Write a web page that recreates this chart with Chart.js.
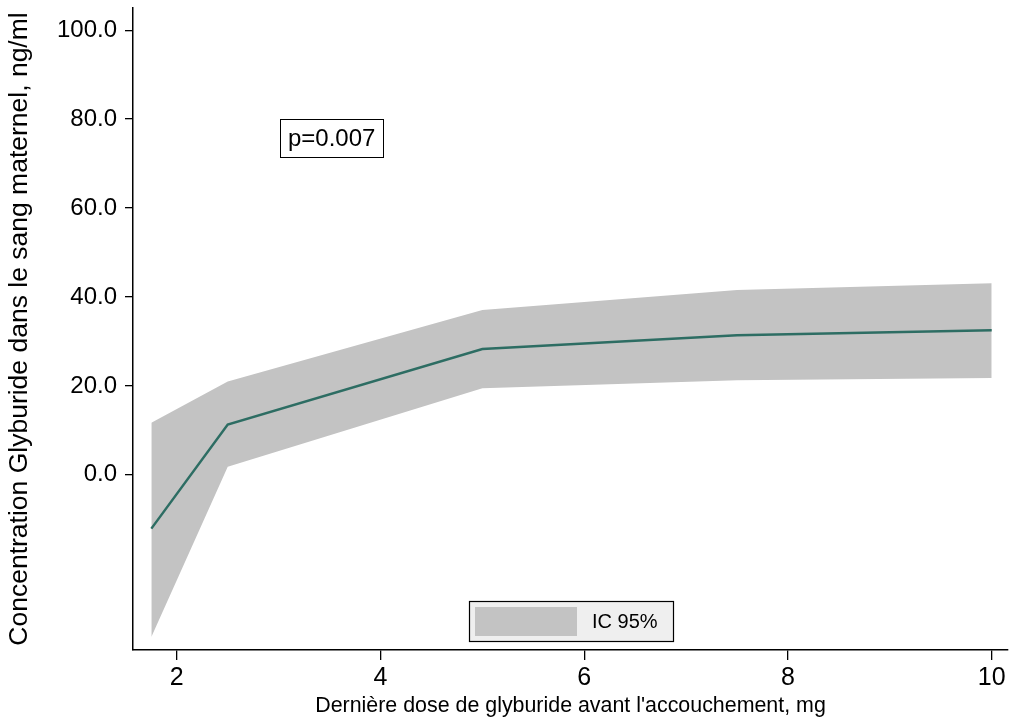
<!DOCTYPE html>
<html>
<head>
<meta charset="utf-8">
<script src="https://cdn.jsdelivr.net/npm/chart.js@4.4.1/dist/chart.umd.min.js"></script>
<style>
  html, body { margin: 0; padding: 0; background: #fff; }
  #wrap { width: 1011px; height: 719px; }
</style>
</head>
<body>
<div id="wrap"><canvas id="chart" width="1011" height="719"></canvas></div>
<script>
// ── Données ──
const doses = [1.75, 2.5, 5, 7.5, 10];
const concentration = [-12.1, 11.3, 28.3, 31.4, 32.5];
const icHaut = [11.7, 21.0, 37.1, 41.6, 43.1];
const icBas = [-36.5, 1.8, 19.5, 21.3, 21.8];

const xTicks = [2, 4, 6, 8, 10];
const yTicks = [0, 20, 40, 60, 80, 100];

const pValueText = 'p=0.007';
const pValuePos = [3.52, 75.7];
const legendLabel = 'IC 95%';

// ── Style ──
const FONT = "'Liberation Sans', Arial, Helvetica, sans-serif";
const BAND = '#c3c3c3';
const LINE = '#2d6d63';

const toXY = (xs, ys) => xs.map((x, i) => ({ x, y: ys[i] }));

// Annotation p + légende dans la zone du graphique
const overlayPlugin = {
  id: 'overlay',
  afterDraw(chart) {
    const { ctx, chartArea, scales } = chart;
    ctx.save();

    // boîte p=0.007
    ctx.font = '24px ' + FONT;
    ctx.textBaseline = 'middle';
    ctx.textAlign = 'center';
    const px = scales.x.getPixelForValue(pValuePos[0]);
    const py = scales.y.getPixelForValue(pValuePos[1]);
    const tw = ctx.measureText(pValueText).width;
    ctx.fillStyle = '#fff';
    ctx.fillRect(px - tw / 2 - 8, py - 19, tw + 16, 38);
    ctx.strokeStyle = '#000';
    ctx.lineWidth = 1;
    ctx.strokeRect(Math.round(px - tw / 2 - 8) + 0.5, Math.round(py - 19) + 0.5, Math.round(tw + 16), 38);
    ctx.fillStyle = '#000';
    ctx.fillText(pValueText, px, py + 1);

    // légende
    const cx = (chartArea.left + chartArea.right) / 2;
    const bw = 204, bh = 40;
    const bx = Math.round(cx - bw / 2), by = chartArea.bottom - 49;
    ctx.fillStyle = '#efefef';
    ctx.fillRect(bx, by, bw, bh);
    ctx.strokeStyle = '#000';
    ctx.lineWidth = 1.2;
    ctx.strokeRect(bx + 0.5, by + 0.5, bw, bh);
    ctx.fillStyle = BAND;
    ctx.fillRect(bx + 6, by + 6, 102, 29);
    ctx.fillStyle = '#000';
    ctx.font = '20px ' + FONT;
    ctx.textAlign = 'left';
    ctx.fillText(legendLabel, bx + 123, by + bh / 2 + 1);

    ctx.restore();
  }
};

new Chart(document.getElementById('chart').getContext('2d'), {
  type: 'line',
  data: {
    datasets: [
      {
        label: 'Concentration',
        data: toXY(doses, concentration),
        borderColor: LINE,
        borderWidth: 2.5,
        pointRadius: 0,
        fill: false,
        tension: 0
      },
      {
        label: 'IC bas',
        data: toXY(doses, icBas),
        borderWidth: 0,
        borderColor: 'rgba(0,0,0,0)',
        pointRadius: 0,
        fill: false,
        tension: 0
      },
      {
        label: legendLabel,
        data: toXY(doses, icHaut),
        borderWidth: 0,
        borderColor: 'rgba(0,0,0,0)',
        backgroundColor: BAND,
        pointRadius: 0,
        fill: '-1',
        tension: 0
      }
    ]
  },
  options: {
    responsive: false,
    animation: false,
    layout: { padding: { left: 0, top: 8, right: 3, bottom: 0 } },
    plugins: {
      legend: { display: false },
      tooltip: { enabled: false }
    },
    scales: {
      x: {
        type: 'linear',
        min: 1.57,
        max: 10.16,
        afterBuildTicks(scale) {
          scale.ticks = xTicks.map(v => ({ value: v }));
        },
        afterFit(scale) { scale.height = 69; },
        border: { color: '#000', width: 1.5 },
        grid: { drawOnChartArea: false, drawTicks: true, tickLength: 10, color: '#000', lineWidth: 1.3 },
        ticks: {
          color: '#000',
          padding: 3,
          maxRotation: 0,
          font: { size: 25, family: FONT },
          callback: v => String(v)
        },
        title: {
          display: true,
          text: "Dernière dose de glyburide avant l'accouchement, mg",
          color: '#000',
          font: { size: 21.4, family: FONT },
          padding: { top: -2, bottom: 0 }
        }
      },
      y: {
        type: 'linear',
        min: -39.4,
        max: 105,
        afterBuildTicks(scale) {
          scale.ticks = yTicks.map(v => ({ value: v }));
        },
        afterFit(scale) {
          scale.width = 133;
          // le label 100.0 n'est pas au bord : pas de marge réservée
          scale.paddingTop = 0;
          scale.paddingBottom = 0;
        },
        border: { color: '#000', width: 1.5 },
        grid: { drawOnChartArea: false, drawTicks: true, tickLength: 8, color: '#000', lineWidth: 1.3 },
        ticks: {
          color: '#000',
          padding: 8,
          font: { size: 24, family: FONT },
          callback: v => v.toFixed(1)
        },
        title: {
          display: true,
          text: 'Concentration Glyburide dans le sang maternel, ng/ml',
          color: '#000',
          font: { size: 26.5, family: FONT },
          padding: { top: 4, bottom: 0 }
        }
      }
    }
  },
  plugins: [overlayPlugin]
});
</script>
</body>
</html>
